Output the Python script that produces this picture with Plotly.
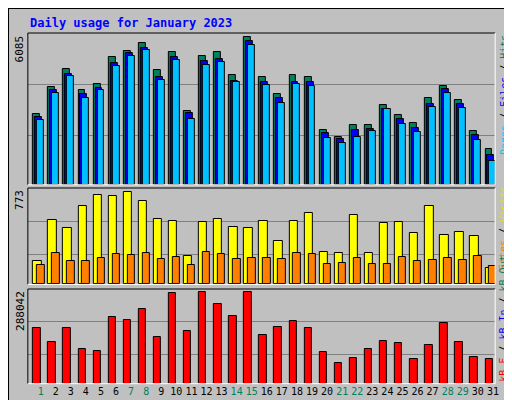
import plotly.graph_objects as go

days = list(range(1, 32))
day_labels = [str(d) for d in days]
weekend = {1, 7, 8, 14, 15, 21, 22, 28, 29}

hits = [2905,4020,4763,3896,4144,5259,5507,5837,4722,5466,3029,5300,5466,4516,6085,4433,3731,4516,4433,2244,1955,2451,2451,3277,2864,2533,3566,4061,3483,2203,1459]
files = [2781,3896,4557,3731,3979,5011,5424,5631,4433,5259,2946,5094,5176,4268,5920,4226,3566,4226,4226,2120,1872,2244,2285,3111,2698,2327,3318,3937,3318,2038,1211]
pages = [2657,3772,4474,3566,3896,4887,5300,5548,4309,5135,2698,4929,5052,4226,5755,4103,3359,4144,4061,1914,1707,1955,2203,3111,2492,2161,3194,3772,3153,1831,964]
visits = [193,538,470,655,748,739,773,697,546,529,235,521,546,479,470,529,361,529,596,269,260,580,260,512,521,428,655,412,437,403,134]
sites = [160,260,193,193,218,252,244,260,210,227,160,269,252,210,218,218,210,260,252,168,176,218,168,168,227,193,202,218,202,235,151]
kbf = [173868,129878,173868,107882,101598,208433,199006,233570,145589,283845,164442,288042,249281,211575,288042,151873,177011,195864,173868,98456,63892,79604,107882,133020,126735,76461,120451,189580,129878,82745,76461]

BG = "#c0c0c0"
fig = go.Figure()

def bars(y, color, axis, offset, width):
    fig.add_trace(go.Bar(x=days, y=y, marker=dict(color=color, line=dict(color="black", width=1)),
                         offset=offset, width=width, yaxis=axis, xaxis="x", showlegend=False, hoverinfo="skip"))

bars(hits, "#00805c", "y", -0.15, 0.46)
bars(files, "#0000ff", "y", -0.02, 0.46)
bars(pages, "#00c0ff", "y", 0.11, 0.46)
bars(visits, "#ffff00", "y2", -0.15, 0.55)
bars(sites, "#ff8000", "y2", 0.11, 0.49)
bars(kbf, "#ff0000", "y3", -0.15, 0.49)

x0, x1 = 20/512, 491/512
panels = [("y", [0.558, 0.9375], 6262, [2039, 4145]),
          ("y2", [0.309, 0.55], 809, [255, 529]),
          ("y3", [0.0608, 0.2975], 297465, [92035, 195700])]
ax_key = {"y": "yaxis", "y2": "yaxis2", "y3": "yaxis3"}
for name, dom, R, grid in panels:
    fig.layout[ax_key[name]] = dict(domain=dom, range=[0, R], tickvals=grid, showticklabels=False,
                                    gridcolor="#808080", gridwidth=1, zeroline=False, ticks="", fixedrange=True)
shapes = []
for name, dom, R, grid in panels:
    shapes.append(dict(type="line", xref="paper", yref="paper", x0=x0, x1=x1, y0=dom[1], y1=dom[1], line=dict(color="black", width=1)))
    shapes.append(dict(type="line", xref="paper", yref="paper", x0=x0, x1=x0, y0=dom[0], y1=dom[1], line=dict(color="black", width=1)))
    shapes.append(dict(type="line", xref="paper", yref="paper", x0=x0, x1=x1, y0=dom[0], y1=dom[0], line=dict(color="white", width=1)))
    shapes.append(dict(type="line", xref="paper", yref="paper", x0=x1, x1=x1, y0=dom[0], y1=dom[1], line=dict(color="white", width=1)))
shapes.append(dict(type="rect", xref="paper", yref="paper", x0=0, x1=1, y0=0, y1=1, line=dict(color="black", width=2)))
shapes.append(dict(type="line", xref="paper", yref="paper", x0=0.004, x1=0.996, y0=0.012, y1=0.012, line=dict(color="#808080", width=2)))
shapes.append(dict(type="line", xref="paper", yref="paper", x0=0.996, x1=0.996, y0=0.012, y1=0.995, line=dict(color="#808080", width=2)))

ticktext = [f'<span style="color:{"#00805c" if d in weekend else "black"}">{d}</span>' for d in days]

def side(text, y, anchor):
    return dict(text=text, xref="paper", yref="paper", x=500/512, y=y, xanchor="center", yanchor=anchor,
                textangle=-90, showarrow=False, font=dict(size=10, color="black"))

fig.update_layout(
    width=512, height=400, margin=dict(l=0, r=0, t=0, b=0),
    paper_bgcolor=BG, plot_bgcolor=BG, barmode="overlay", bargap=0,
    font=dict(family="DejaVu Sans Mono", size=10, color="black"),
    xaxis=dict(domain=[x0, x1], range=[0.5, 31.5], tickvals=[d + 0.35 for d in days], ticktext=ticktext,
               tickangle=0, showgrid=False, zeroline=False, ticks="", anchor="y3", tickfont=dict(size=10), fixedrange=True),
    shapes=shapes,
    annotations=[
        dict(text="<b>Daily usage for January 2023</b>", xref="paper", yref="paper", x=20/512, y=1-15/400,
             xanchor="left", yanchor="middle", showarrow=False, font=dict(color="#0000ff", size=12, family="DejaVu Sans Mono")),
        dict(text="6085", xref="paper", yref="paper", x=12/512, y=0.9375, xanchor="center", yanchor="top", textangle=-90, showarrow=False, font=dict(size=11)),
        dict(text="773", xref="paper", yref="paper", x=12/512, y=0.55, xanchor="center", yanchor="top", textangle=-90, showarrow=False, font=dict(size=11)),
        dict(text="288042", xref="paper", yref="paper", x=12/512, y=0.2975, xanchor="center", yanchor="top", textangle=-90, showarrow=False, font=dict(size=11)),
        side('<span style="color:#00c0ff">Pages</span> / <span style="color:#0000ff">Files</span> / <span style="color:#00805c">Hits</span>', 0.9375, "top"),
        side('<span style="color:#ff8000">Sites</span> / <span style="color:#e0e000">Visits</span>', 0.56, "top"),
        side('<span style="color:#ff0000">kB F</span> / <span style="color:#0000ff">kB In</span> / <span style="color:#00805c">kB Out</span>', 0.0608, "bottom"),
    ],
)
fig.write_html("out.html")
